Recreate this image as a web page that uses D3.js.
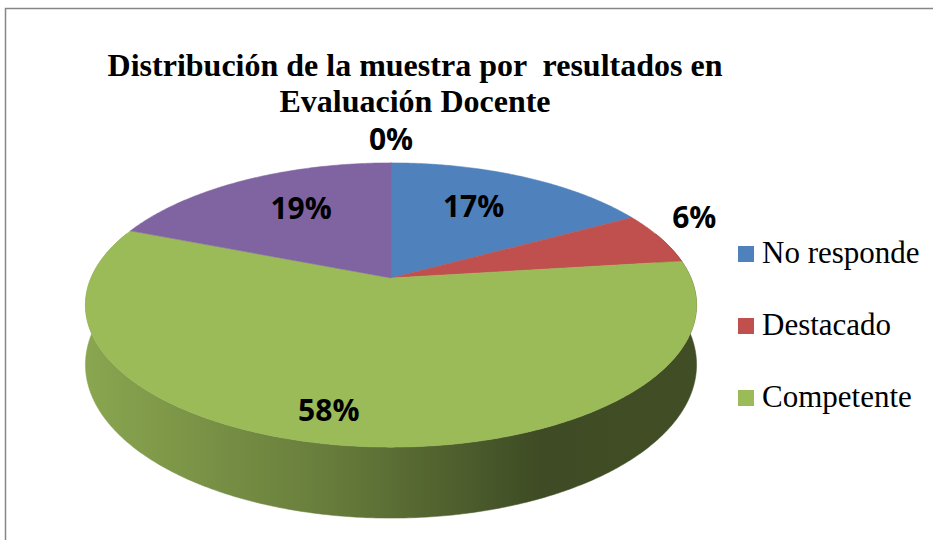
<!DOCTYPE html>
<html>
<head>
<meta charset="utf-8">
<script src="https://cdn.jsdelivr.net/npm/d3@7"></script>
<style>
  body { margin: 0; background: #fff; }
  svg { display: block; }
</style>
</head>
<body>
<div class="chart"></div>
<script>
// data
const categories = ["No responde", "Destacado", "Competente", "Básico", "Insatisfactorio"];
const percents = [17, 6, 58, 19, 0];
const colors = ["#4f81bd", "#c0504d", "#9bbb59", "#8064a2", "#f79646"];
const legendShown = 3; // only three entries fit in the original legend

// label placement: turn from the mid angle (deg) and radius factor
const labelTurn = [-3, -6, 5, 4, 0];
const labelRadius = [0.66, 1.21, 0.83, 0.66, 1.26];

function drawPie() {
    const width = 933, height = 540;
    const cx = 391, cy = 278, rx = 300, ry = 137, persp = 0.19, depth = 57.5;

    const svg = d3.select(".chart").append("svg")
        .attr("width", width)
        .attr("height", height);

    // chart area border (runs off the right and bottom edges)
    svg.append("rect")
        .attr("x", 5.5).attr("y", 8.5)
        .attr("width", 1000).attr("height", 600)
        .attr("fill", "none")
        .attr("stroke", "#868686")
        .attr("stroke-width", 1.5);

    // project a point on the tilted disc: angle clockwise from 12 o'clock
    function proj(a, f, z) {
        const u = Math.sin(a) * f, v = Math.cos(a) * f;
        const s = 1 / (1 + persp * v);
        return [cx + rx * u * s, cy - ry * v * s + z * depth * (1 / (1 + persp * Math.cos(a)))];
    }

    const pie = d3.pie().sort(null).value(d => d);
    const arcs = pie(percents);

    const defs = svg.append("defs");
    arcs.forEach((d, i) => {
        const c = d3.color(colors[i]);
        const g = defs.append("linearGradient")
            .attr("id", "side" + i)
            .attr("gradientUnits", "userSpaceOnUse")
            .attr("x1", cx - rx).attr("x2", cx + rx)
            .attr("y1", 0).attr("y2", 0);
        g.append("stop").attr("offset", "0%").attr("stop-color", c.darker(0.35));
        g.append("stop").attr("offset", "40%").attr("stop-color", c.darker(1.15));
        g.append("stop").attr("offset", "75%").attr("stop-color", c.darker(2.55));
        g.append("stop").attr("offset", "100%").attr("stop-color", c.darker(2.45));
    });

    const line = d3.line().curve(d3.curveLinearClosed);
    const step = Math.PI / 360;

    // front wall
    const lo = Math.PI / 2 - 0.35, hi = 3 * Math.PI / 2 + 0.35;
    arcs.forEach((d, i) => {
        const a0 = Math.max(d.startAngle, lo), a1 = Math.min(d.endAngle, hi);
        if (a1 <= a0) return;
        const ang = d3.range(a0, a1, step).concat([a1]);
        const pts = ang.map(a => proj(a, 1, 0))
            .concat(ang.slice().reverse().map(a => proj(a, 1, 1)));
        svg.append("path")
            .attr("d", line(pts))
            .attr("fill", `url(#side${i})`)
            .attr("stroke", `url(#side${i})`)
            .attr("stroke-width", 0.5);
    });

    // top faces
    arcs.forEach((d, i) => {
        if (d.endAngle - d.startAngle <= 0) return;
        const ang = d3.range(d.startAngle, d.endAngle, step).concat([d.endAngle]);
        const pts = [proj(0, 0, 0)].concat(ang.map(a => proj(a, 1, 0)));
        svg.append("path")
            .attr("d", line(pts))
            .attr("fill", colors[i])
            .attr("stroke", colors[i])
            .attr("stroke-width", 0.5);
    });

    // data labels
    arcs.forEach((d, i) => {
        const mid = (d.startAngle + d.endAngle) / 2 + labelTurn[i] * Math.PI / 180;
        const p = proj(mid, labelRadius[i], 0);
        svg.append("text")
            .attr("x", p[0]).attr("y", p[1])
            .attr("text-anchor", "middle")
            .attr("dominant-baseline", "central")
            .style("font-family", "'Open Sans', sans-serif")
            .style("font-weight", "bold")
            .style("font-size", "30px")
            .attr("fill", "#000")
            .text(percents[i] + "%");
    });

    // title
    const title = ["Distribución de la muestra por  resultados en", "Evaluación Docente"];
    svg.append("text")
        .attr("x", 415).attr("y", 76)
        .attr("text-anchor", "middle")
        .style("font-family", "'Liberation Serif', 'Times New Roman', serif")
        .style("font-weight", "bold")
        .style("font-size", "32px")
        .style("white-space", "pre")
        .selectAll("tspan")
        .data(title)
        .enter()
        .append("tspan")
            .attr("x", 415)
            .attr("dy", (t, i) => i === 0 ? 0 : 36)
            .text(t => t);

    // legend
    const legend = svg.append("g")
        .selectAll("g")
        .data(categories.slice(0, legendShown))
        .enter()
        .append("g")
            .attr("transform", (t, i) => `translate(738, ${263 + i * 72})`);
    legend.append("rect")
        .attr("x", 0).attr("y", -17)
        .attr("width", 16).attr("height", 16)
        .attr("fill", (t, i) => colors[i]);
    legend.append("text")
        .attr("x", 24).attr("y", 0)
        .style("font-family", "'Liberation Serif', 'Times New Roman', serif")
        .style("font-size", "31px")
        .attr("fill", "#000")
        .text(t => t);
}

drawPie();
</script>
</body>
</html>
